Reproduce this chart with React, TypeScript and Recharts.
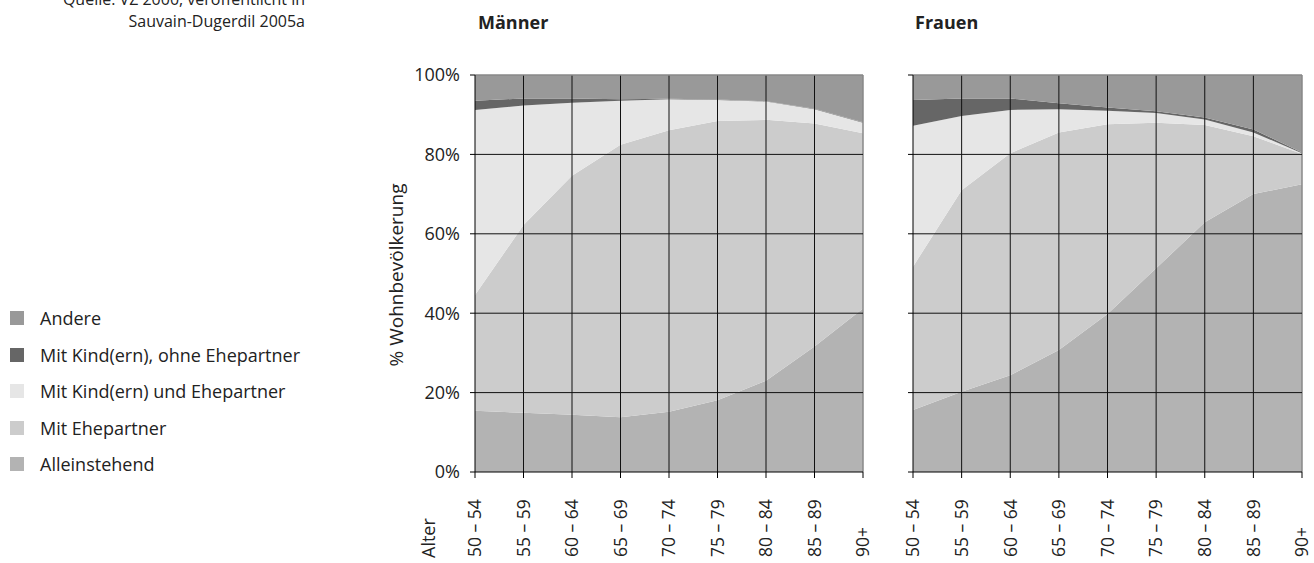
import React from 'react';
import {AreaChart, Area, XAxis, YAxis, ReferenceLine} from 'recharts';

const ageGroups = ['50 – 54', '55 – 59', '60 – 64', '65 – 69', '70 – 74', '75 – 79', '80 – 84', '85 – 89', '90+'];

const menAlone = [15.4, 14.9, 14.4, 13.8, 15.2, 18.1, 23.0, 31.6, 41.2];
const menSpouse = [29.2, 47.3, 60.2, 68.6, 70.9, 70.3, 65.7, 56.2, 44.1];
const menKidsSpouse = [46.6, 30.1, 18.4, 11.1, 7.8, 5.3, 4.6, 3.6, 2.7];
const menKidsNoSpouse = [2.3, 1.8, 1.1, 0.4, 0.1, 0.1, 0.1, 0.1, 0.1];
const menOther = [6.5, 5.9, 5.9, 6.1, 6.0, 6.2, 6.6, 8.5, 11.9];

const womenAlone = [15.6, 20.2, 24.4, 30.7, 39.8, 51.3, 62.9, 70.0, 72.5];
const womenSpouse = [36.1, 50.8, 55.9, 54.8, 47.8, 36.7, 24.5, 14.6, 7.6];
const womenKidsSpouse = [35.5, 18.7, 10.9, 5.9, 3.4, 2.4, 1.4, 0.9, 0.2];
const womenKidsNoSpouse = [6.5, 4.4, 2.9, 1.5, 0.8, 0.5, 0.5, 0.8, 0.2];
const womenOther = [6.3, 5.9, 5.9, 7.1, 8.2, 9.1, 10.7, 13.7, 19.5];

const yTicks = [0, 20, 40, 60, 80, 100];

// stacking order, bottom to top
const series = [
  { key: 'alone', name: 'Alleinstehend', color: '#b3b3b3' },
  { key: 'spouse', name: 'Mit Ehepartner', color: '#cccccc' },
  { key: 'kidsSpouse', name: 'Mit Kind(ern) und Ehepartner', color: '#e6e6e6' },
  { key: 'kidsNoSpouse', name: 'Mit Kind(ern), ohne Ehepartner', color: '#666666' },
  { key: 'other', name: 'Andere', color: '#999999' },
];

const buildRows = (a: number[], b: number[], c: number[], d: number[], e: number[]) =>
  ageGroups.map((age, i) => ({ age, alone: a[i], spouse: b[i], kidsSpouse: c[i], kidsNoSpouse: d[i], other: e[i] }));

const menData = buildRows(menAlone, menSpouse, menKidsSpouse, menKidsNoSpouse, menOther);
const womenData = buildRows(womenAlone, womenSpouse, womenKidsSpouse, womenKidsNoSpouse, womenOther);

const FONT = '"Open Sans", "Noto Sans", sans-serif';
const TEXT = '#222';

const AgeTick = (props: any) => {
  const { x, y, payload } = props;
  return (
    <text
      transform={`translate(${x},${y + 79}) rotate(-90)`}
      textAnchor="start"
      dy="0.36em"
      fontSize={17.5}
      fontFamily={FONT}
      fill={TEXT}
    >
      {payload.value}
    </text>
  );
};

function StackChart({ data, labels, width, marginLeft, yWidth, marginRight }: any) {
  return (
    <AreaChart
      width={width}
      height={503}
      data={data}
      margin={{ top: 15, right: marginRight, left: marginLeft, bottom: 6 }}
    >
      <XAxis
        dataKey="age"
        interval={0}
        height={85}
        tickSize={6}
        tickMargin={0}
        axisLine={{ stroke: '#000' }}
        tickLine={{ stroke: '#000' }}
        tick={<AgeTick />}
      />
      <YAxis
        type="number"
        domain={[0, 100]}
        ticks={yTicks}
        width={yWidth}
        tickSize={5}
        tickMargin={10}
        axisLine={{ stroke: '#000' }}
        tickLine={{ stroke: '#000' }}
        tickFormatter={(v: number) => (labels ? `${v}%` : '')}
        tick={{ fontSize: 18, fill: TEXT, fontFamily: FONT }}
      />
      {series.map(s => (
        <Area
          key={s.key}
          type="linear"
          dataKey={s.key}
          name={s.name}
          stackId="a"
          stroke="none"
          fill={s.color}
          fillOpacity={1}
          isAnimationActive={false}
        />
      ))}
      {ageGroups.slice(1, -1).map(a => (
        <ReferenceLine key={a} x={a} stroke="#111" strokeWidth={1} />
      ))}
      <ReferenceLine x={ageGroups[ageGroups.length - 1]} stroke="#888" strokeWidth={1.5} />
      {[20, 40, 60, 80].map(v => (
        <ReferenceLine key={v} y={v} stroke="#111" strokeWidth={1} />
      ))}
      <ReferenceLine y={100} stroke="#888" strokeWidth={1.5} />
    </AreaChart>
  );
}

export default function App() {
  const legend = [...series].reverse();
  return (
    <div style={{ position: 'absolute', left: 0, top: 0, width: 1314, height: 563, overflow: 'hidden', background: '#fff', fontFamily: FONT, color: TEXT }}>
      <div style={{ position: 'absolute', right: 1314 - 305, top: -12, textAlign: 'right', fontSize: 16, lineHeight: '22px', whiteSpace: 'nowrap' }}>
        Quelle: VZ 2000, veröffentlicht in<br />Sauvain-Dugerdil 2005a
      </div>

      <div style={{ position: 'absolute', left: 478, top: 10, fontSize: 18, fontWeight: 'bold' }}>Männer</div>
      <div style={{ position: 'absolute', left: 915, top: 10, fontSize: 18, fontWeight: 'bold' }}>Frauen</div>

      {legend.map((s, i) => (
        <div key={s.key} style={{ position: 'absolute', left: 10, top: 306 + i * 36.5, height: 24, display: 'flex', alignItems: 'center', whiteSpace: 'nowrap' }}>
          <span style={{ display: 'inline-block', width: 14, height: 14, background: s.color, marginRight: 16 }} />
          <span style={{ fontSize: 18 }}>{s.name}</span>
        </div>
      ))}

      <div style={{ position: 'absolute', left: 396, top: 275, transform: 'translate(-50%, -50%) rotate(-90deg)', fontSize: 19, whiteSpace: 'nowrap' }}>
        % Wohnbevölkerung
      </div>
      <div style={{ position: 'absolute', left: 428, top: 558, transformOrigin: '0 0', transform: 'rotate(-90deg) translateY(-50%)', fontSize: 18, whiteSpace: 'nowrap', lineHeight: '22px' }}>
        Alter
      </div>

      <div style={{ position: 'absolute', left: 380, top: 60 }}>
        <StackChart data={menData} labels width={500} marginLeft={35} yWidth={60} marginRight={17} />
      </div>
      <div style={{ position: 'absolute', left: 860, top: 60 }}>
        <StackChart data={womenData} labels={false} width={454} marginLeft={33} yWidth={20} marginRight={12} />
      </div>
    </div>
  );
}
